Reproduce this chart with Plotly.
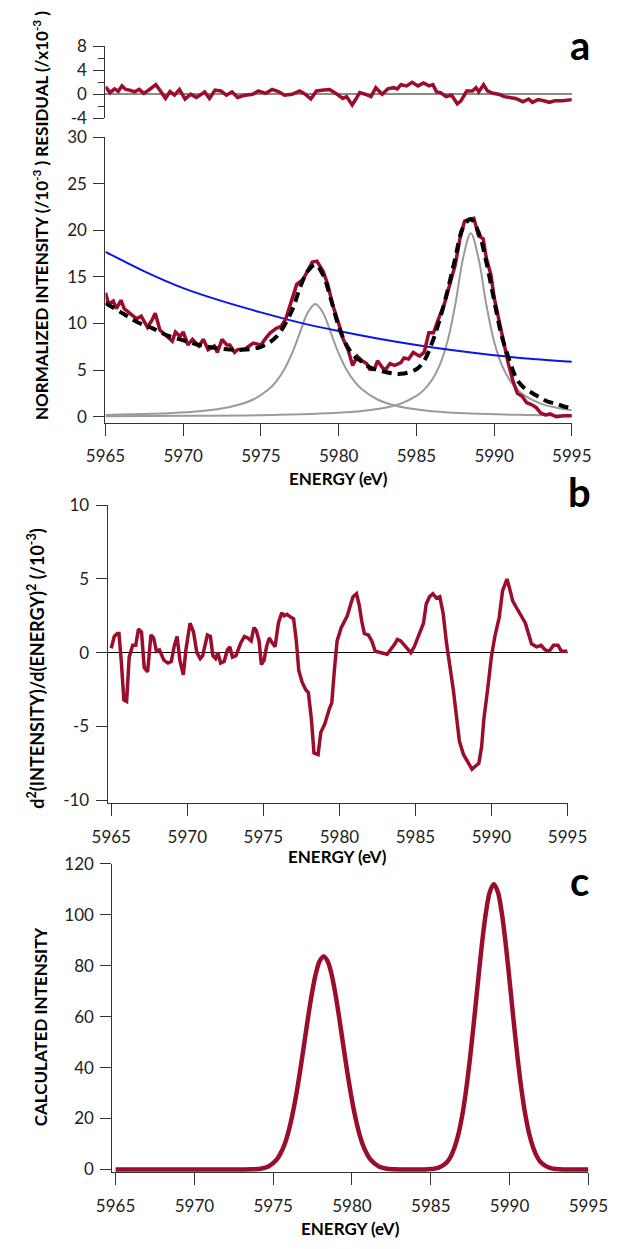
import plotly.graph_objects as go

W, H = 629, 1249
RED = "#9b0d2c"
FONT = "Lato"

# ---------------- Panel a: residual ----------------
res_E = [5965.0, 5965.29, 5965.58, 5965.82, 5966.06, 5966.30, 5966.62, 5966.86, 5967.17, 5967.46,
         5967.83, 5968.24, 5968.55, 5968.86, 5969.15, 5969.44, 5969.76, 5970.12, 5970.48, 5970.85,
         5971.09, 5971.38, 5971.69, 5972.05, 5972.42, 5972.78, 5973.14, 5973.50, 5973.99, 5974.47,
         5974.83, 5975.31, 5975.72, 5976.16, 5976.52, 5977.00, 5977.49, 5977.85, 5978.21, 5978.57,
         5979.06, 5979.42, 5979.90, 5980.27, 5980.51, 5980.87, 5981.11, 5981.35, 5981.71, 5982.08,
         5982.39, 5982.80, 5983.16, 5983.53, 5983.77, 5984.01, 5984.37, 5984.73, 5985.10, 5985.46,
         5985.82, 5986.06, 5986.30, 5986.55, 5986.91, 5987.27, 5987.63, 5987.87, 5988.24, 5988.60,
         5988.84, 5989.01, 5989.32, 5989.57, 5989.93, 5990.29, 5990.65, 5991.01, 5991.38, 5991.86,
         5992.22, 5992.46, 5992.83, 5993.19, 5993.55, 5993.91, 5994.40, 5995.0]
res_V = [1.25, 0.27, 0.9, 0.5, 1.4, 0.8, 0.65, 0.4, 0.8, 0.15,
         0.8, 1.6, 0.5, -0.7, 0.45, -0.15, 0.8, -0.8, 0.0, -0.55,
         -0.15, 0.4, -0.7, 0.7, 0.55, -0.15, 0.4, -0.55, -0.15, 0.0,
         0.55, 0.15, 0.8, 0.4, -0.15, 0.0, 0.55, 0.0, -0.8, 0.55,
         0.7, 0.8, 0.0, -0.7, -0.4, -1.8, -0.8, 0.27, 0.0, -0.4,
         1.1, 0.0, 0.9, 1.1, 0.9, 1.6, 1.4, 2.0, 1.4, 1.9,
         1.4, 1.6, 0.4, 0.27, -0.4, -0.15, -1.6, -1.1, 0.55, 0.55,
         1.1, 0.4, 1.6, 0.55, 0.15, 0.0, -0.4, -0.55, -0.7, -1.25,
         -0.8, -1.35, -0.9, -1.1, -1.35, -1.1, -1.1, -0.9]

# ---------------- Panel a: data, fit, background, peaks ----------------
dat_E = [5965.0, 5965.2, 5965.5, 5965.7, 5966.0, 5966.2, 5966.5, 5967.0, 5967.3, 5967.7,
         5968.0, 5968.2, 5968.5, 5969.0, 5969.3, 5969.5, 5969.8, 5970.0, 5970.3, 5970.6,
         5971.0, 5971.3, 5971.6, 5972.0, 5972.2, 5972.5, 5972.8, 5973.0, 5973.3, 5973.5,
         5974.0, 5974.5, 5975.0, 5975.3, 5975.6, 5976.0, 5976.3, 5976.6, 5977.0, 5977.3,
         5977.7, 5978.0, 5978.3, 5978.6, 5979.0, 5979.3, 5979.6, 5980.0, 5980.3, 5980.6,
         5980.9, 5981.2, 5981.5, 5981.8, 5982.0, 5982.3, 5982.5, 5982.8, 5983.0, 5983.3,
         5983.6, 5984.0, 5984.2, 5984.5, 5984.8, 5985.2, 5985.5, 5985.8, 5986.1, 5986.4,
         5986.8, 5987.2, 5987.5, 5987.8, 5988.1, 5988.4, 5988.7, 5989.0, 5989.3, 5989.5,
         5989.8, 5990.0, 5990.3, 5990.6, 5990.9, 5991.2, 5991.5, 5991.8, 5992.1, 5992.4,
         5992.7, 5993.0, 5993.3, 5993.6, 5994.0, 5994.5, 5995.0]
dat_V = [13.3, 12.1, 12.4, 11.6, 12.5, 11.6, 11.2, 10.5, 10.8, 9.6,
         10.4, 11.1, 9.3, 8.6, 8.1, 9.1, 8.6, 9.1, 7.7, 8.3,
         7.6, 8.3, 7.2, 7.6, 6.9, 8.3, 7.7, 7.7, 6.9, 7.2,
         7.3, 7.9, 7.7, 8.4, 9.0, 9.5, 9.7, 10.5, 12.5, 14.2,
         14.7, 15.6, 16.6, 16.7, 15.6, 14.2, 12.1, 10.0, 8.3, 7.2,
         5.5, 6.5, 6.0, 5.7, 5.1, 5.1, 6.0, 5.3, 5.0, 5.7,
         5.5, 5.8, 6.3, 6.2, 6.9, 6.5, 6.9, 9.0, 9.0, 10.4,
         12.1, 14.5, 16.3, 19.1, 21.0, 21.2, 21.3, 19.4, 19.1, 17.0,
         15.2, 12.8, 10.4, 7.9, 5.8, 3.9, 2.5, 2.2, 1.5, 1.3,
         1.0, 0.4, 0.2, 0.3, 0.0, 0.1, 0.1]

fit_E = [5965, 5966, 5967, 5968, 5969, 5970, 5971, 5972, 5973, 5974,
         5975, 5976, 5977, 5977.5, 5978, 5978.5, 5979, 5979.5, 5980, 5980.5,
         5981, 5981.5, 5982, 5983, 5984, 5985, 5985.5, 5986, 5986.5, 5987,
         5987.5, 5988, 5988.5, 5989, 5989.5, 5990, 5990.5, 5991, 5991.5, 5992,
         5992.5, 5993, 5993.5, 5994, 5994.5, 5995]
fit_V = [12.2, 11.2, 10.2, 9.5, 8.7, 8.2, 7.7, 7.4, 7.2, 7.2,
         7.5, 8.6, 11.4, 13.8, 15.6, 16.3, 15.2, 12.6, 9.7, 7.7,
         6.5, 5.9, 5.3, 4.8, 4.6, 5.1, 6.0, 7.9, 10.4, 13.5,
         17.0, 20.3, 21.2, 19.8, 16.6, 12.5, 8.6, 6.0, 3.9, 3.0,
         2.5, 2.0, 1.6, 1.4, 1.1, 0.9]

bg_E = [5965, 5967.5, 5970, 5972.5, 5975, 5977.5, 5980, 5982.5, 5985, 5987.5, 5990, 5992.5, 5995]
bg_V = [17.7, 15.6, 13.8, 12.4, 11.2, 10.1, 9.2, 8.4, 7.7, 7.1, 6.6, 6.2, 5.9]

pk1_E = [5965, 5968, 5971, 5973, 5974.5, 5975.5, 5976, 5976.5, 5977, 5977.5, 5978, 5978.5,
         5979, 5979.5, 5980, 5980.5, 5981, 5981.5, 5982.5, 5983.5, 5984.5, 5986, 5988.5, 5991.5, 5995]
pk1_V = [0.19, 0.31, 0.59, 1.05, 1.85, 2.94, 3.83, 5.08, 6.80, 8.99, 11.14, 12.1,
         11.14, 8.99, 6.80, 5.08, 3.83, 2.94, 1.85, 1.25, 0.90, 0.59, 0.34, 0.20, 0.13]

pk2_E = [5965, 5970.5, 5975.5, 5980.5, 5983, 5984, 5985, 5985.5, 5986, 5986.5, 5987, 5987.5,
         5988, 5988.5, 5989, 5989.5, 5990, 5990.5, 5991, 5991.5, 5992, 5993, 5994, 5995]
pk2_V = [0.056, 0.095, 0.18, 0.47, 0.97, 1.41, 2.23, 2.91, 3.94, 5.53, 8.07, 12.01,
         16.98, 19.7, 16.98, 12.01, 8.07, 5.53, 3.94, 2.91, 2.23, 1.41, 0.97, 0.70]

# ---------------- Panel b: second derivative ----------------
d2_E = [5965.00, 5965.20, 5965.40, 5965.51, 5965.67, 5965.83, 5966.01, 5966.18, 5966.41, 5966.61,
        5966.79, 5966.99, 5967.17, 5967.39, 5967.61, 5967.79, 5967.97, 5968.17, 5968.46, 5968.73,
        5968.95, 5969.13, 5969.33, 5969.51, 5969.74, 5969.91, 5970.18, 5970.41, 5970.63, 5970.85,
        5971.01, 5971.19, 5971.32, 5971.52, 5971.68, 5971.86, 5972.01, 5972.19, 5972.42, 5972.64,
        5972.80, 5972.97, 5973.20, 5973.38, 5973.53, 5973.76, 5973.98, 5974.20, 5974.38, 5974.54,
        5974.72, 5974.87, 5975.05, 5975.21, 5975.39, 5975.56, 5975.77, 5975.99, 5976.21, 5976.37,
        5976.55, 5976.82, 5976.99, 5977.17, 5977.33, 5977.55, 5977.78, 5977.96, 5978.16, 5978.33,
        5978.60, 5978.78, 5979.05, 5979.34, 5979.50, 5979.67, 5979.85, 5980.12, 5980.34, 5980.52,
        5980.75, 5980.90, 5981.13, 5981.31, 5981.46, 5981.64, 5981.91, 5982.13, 5982.36, 5982.80,
        5983.14, 5983.65, 5983.81, 5984.03, 5984.37, 5984.70, 5984.92, 5985.21, 5985.53, 5985.71,
        5985.93, 5986.15, 5986.38, 5986.60, 5986.82, 5987.05, 5987.27, 5987.49, 5987.72, 5987.89,
        5988.16, 5988.50, 5988.72, 5988.94, 5989.17, 5989.35, 5989.50, 5989.77, 5989.99, 5990.22,
        5990.51, 5990.73, 5990.89, 5991.02, 5991.18, 5991.40, 5991.62, 5991.96, 5992.23, 5992.52,
        5992.63, 5992.97, 5993.26, 5993.52, 5993.79, 5994.08, 5994.37, 5994.60, 5995.00]
d2_V = [0.3, 1.1, 1.3, 1.3, -0.7, -3.2, -3.3, -0.3, 0.5, 0.5,
        1.6, 1.4, -1.0, -1.3, 1.2, 1.0, 0.1, 0.2, -0.5, -0.7,
        -0.6, 0.4, 1.1, -0.5, -1.5, 0.2, 2.0, 1.4, 0.0, -0.4,
        -0.2, 0.8, 1.2, 1.1, -0.2, -0.4, 0.0, -0.7, -0.6, 0.2,
        0.4, -0.3, -0.2, 0.3, 0.7, 1.1, 1.0, 0.8, 1.7, 1.5,
        0.8, -0.8, -0.5, 0.4, 1.0, 0.7, 0.4, 2.0, 2.7, 2.5,
        2.6, 2.4, 2.3, 0.8, -1.2, -2.0, -2.5, -2.7, -4.5, -6.8,
        -6.9, -5.4, -4.8, -3.8, -3.4, -1.2, 0.8, 1.7, 2.1, 2.5,
        3.3, 3.8, 4.0, 3.2, 2.2, 1.3, 1.2, 0.8, 0.1, 0.0,
        -0.1, 0.6, 0.9, 0.8, 0.4, 0.0, 0.4, 1.2, 2.0, 3.3,
        3.8, 4.0, 3.7, 3.8, 2.7, 0.6, -0.9, -2.5, -4.5, -6.0,
        -6.9, -7.5, -7.9, -7.7, -7.5, -6.4, -4.5, -2.3, -0.3, 1.1,
        2.4, 4.2, 4.6, 5.0, 4.4, 3.5, 3.1, 2.5, 2.0, 1.0,
        0.6, 0.4, 0.5, 0.2, 0.1, 0.5, 0.5, 0.1, 0.1]

# ---------------- Panel c: calculated intensity ----------------
calc_E = [5965, 5970, 5973, 5973.7, 5974.2, 5974.7, 5975.2, 5975.45, 5975.7, 5975.95,
          5976.2, 5976.45, 5976.7, 5976.95, 5977.2, 5977.45, 5977.7, 5977.95, 5978.2, 5978.45,
          5978.7, 5978.95, 5979.2, 5979.45, 5979.7, 5979.95, 5980.2, 5980.45, 5980.7, 5980.95,
          5981.2, 5981.7, 5982.2, 5982.7, 5983.5, 5984.5, 5985.0, 5985.5, 5986.0, 5986.25,
          5986.5, 5986.75, 5987.0, 5987.25, 5987.5, 5987.75, 5988.0, 5988.25, 5988.5, 5988.75,
          5989.0, 5989.25, 5989.5, 5989.75, 5990.0, 5990.25, 5990.5, 5990.75, 5991.0, 5991.25,
          5991.5, 5991.75, 5992.0, 5992.5, 5993.0, 5993.5, 5995]
calc_V = [0, 0, 0, 0.07, 0.3, 1.2, 3.7, 6.1, 9.5, 14.4,
          20.9, 28.9, 38.3, 48.6, 59.1, 68.8, 76.7, 81.8, 83.6, 81.8,
          76.7, 68.8, 59.1, 48.6, 38.3, 28.9, 20.9, 14.4, 9.5, 6.1,
          3.7, 1.2, 0.3, 0.07, 0, 0, 0.15, 0.7, 2.7, 4.9,
          8.5, 13.8, 21.4, 31.6, 44.2, 58.7, 74.0, 88.7, 100.9, 109.0,
          111.9, 109.0, 100.9, 88.7, 74.0, 58.7, 44.2, 31.6, 21.4, 13.8,
          8.5, 4.9, 2.7, 0.7, 0.15, 0, 0]

energy_ticks = [5965, 5970, 5975, 5980, 5985, 5990, 5995]
res_ticks = [-4, 0, 4, 8]
a_ticks = [0, 5, 10, 15, 20, 25, 30]
b_ticks = [-10, -5, 0, 5, 10]
c_ticks = [0, 20, 40, 60, 80, 100, 120]


def lbl(v):
    return str(v)


def px_x(p):
    return p / W


def px_y(p):
    return 1 - p / H


fig = go.Figure()

# residual
fig.add_trace(go.Scatter(x=res_E, y=res_V, mode="lines", line=dict(color=RED, width=3.5),
                         xaxis="x", yaxis="y", showlegend=False))
# panel a
fig.add_trace(go.Scatter(x=pk1_E, y=pk1_V, mode="lines", line=dict(color="#9a9a9a", width=2, shape="spline"),
                         xaxis="x2", yaxis="y2", showlegend=False))
fig.add_trace(go.Scatter(x=pk2_E, y=pk2_V, mode="lines", line=dict(color="#9a9a9a", width=2, shape="spline"),
                         xaxis="x2", yaxis="y2", showlegend=False))
fig.add_trace(go.Scatter(x=bg_E, y=bg_V, mode="lines", line=dict(color="#0a14f0", width=2, shape="spline"),
                         xaxis="x2", yaxis="y2", showlegend=False))
fig.add_trace(go.Scatter(x=dat_E, y=dat_V, mode="lines", line=dict(color=RED, width=3.5),
                         xaxis="x2", yaxis="y2", showlegend=False))
fig.add_trace(go.Scatter(x=fit_E, y=fit_V, mode="lines",
                         line=dict(color="black", width=4, dash="10px,6px", shape="spline"),
                         xaxis="x2", yaxis="y2", showlegend=False))
# panel b
fig.add_trace(go.Scatter(x=d2_E, y=d2_V, mode="lines", line=dict(color=RED, width=3.5),
                         xaxis="x3", yaxis="y3", showlegend=False))
# panel c
fig.add_trace(go.Scatter(x=calc_E, y=calc_V, mode="lines", line=dict(color=RED, width=4.5, shape="spline"),
                         xaxis="x4", yaxis="y4", showlegend=False))

tickfont = dict(family=FONT, size=17, color="#222")
common_x = dict(showline=True, linecolor="#333", linewidth=1.2, ticks="outside", ticklen=12,
                tickwidth=1.2, tickcolor="#333", tickvals=energy_ticks,
                ticktext=[str(t) for t in energy_ticks], tickfont=tickfont,
                showgrid=False, zeroline=False)
common_y = dict(showline=True, linecolor="#333", linewidth=1.2, ticks="outside", ticklen=11,
                tickwidth=1.2, tickcolor="#333", tickfont=tickfont, ticklabelstandoff=3,
                showgrid=False)

xa_dom = [px_x(91.3), px_x(589.3)]
fig.update_layout(
    width=W, height=H, margin=dict(l=0, r=0, t=0, b=0),
    paper_bgcolor="white", plot_bgcolor="white", showlegend=False,
    xaxis=dict(domain=xa_dom, range=[5965, 5995], anchor="y", visible=False),
    yaxis=dict(domain=[px_y(109), px_y(36)], range=[-4, 8], anchor="x",
               tickvals=res_ticks, ticktext=[lbl(t) for t in res_ticks],
               minor=dict(dtick=2, ticks="outside", ticklen=6, tickcolor="#333", tickwidth=1.2),
               zeroline=True, zerolinecolor="#8a8a8a", zerolinewidth=2, **common_y),
    xaxis2=dict(domain=xa_dom, range=[5965, 5995], anchor="y2", ticklabelstandoff=5, **common_x),
    yaxis2=dict(domain=[px_y(419.3), px_y(128.3)], range=[-0.7, 30], anchor="x2",
                tickvals=a_ticks, ticktext=[lbl(t) for t in a_ticks], zeroline=False, **common_y),
    xaxis3=dict(domain=[px_x(93.7), px_x(584.7)], range=[5964.77, 5995], anchor="y3",
                ticklabelstandoff=6, **common_x),
    yaxis3=dict(domain=[px_y(805.7), px_y(502.7)], range=[-10.2, 10], anchor="x3",
                tickvals=b_ticks, ticktext=[lbl(t) for t in b_ticks],
                zeroline=True, zerolinecolor="black", zerolinewidth=1, **common_y),
    xaxis4=dict(domain=[px_x(98.7), px_x(607)], range=[5964.8, 5995], anchor="y4",
                ticklabelstandoff=6, **common_x),
    yaxis4=dict(domain=[px_y(1181), px_y(867.3)], range=[-1.04, 120], anchor="x4",
                tickvals=c_ticks, ticktext=[lbl(t) for t in c_ticks], zeroline=False, **common_y),
)

title_font = dict(family=FONT, size=17, color="black")
ann = []
for (cx, cy) in [(340.3, 476), (339, 860), (353, 1238)]:
    ann.append(dict(x=px_x(cx), y=px_y(cy), xref="paper", yref="paper", text="<b>ENERGY (eV)</b>",
                    showarrow=False, xanchor="center", yanchor="middle", font=title_font))
ann.append(dict(x=px_x(22), y=px_y(208), xref="paper", yref="paper", textangle=-90,
                text="<b>NORMALIZED INTENSITY (/10<sup>-3</sup> ) RESIDUAL (/x10<sup>-3</sup> )</b>",
                showarrow=False, xanchor="center", yanchor="middle", font=dict(family=FONT, size=17, color="black")))
ann.append(dict(x=px_x(17), y=px_y(668), xref="paper", yref="paper", textangle=-90,
                text="<b>d<sup>2</sup>(INTENSITY)/d(ENERGY)<sup>2</sup> (/10<sup>-3</sup>)</b>",
                showarrow=False, xanchor="center", yanchor="middle", font=dict(family=FONT, size=18, color="black")))
ann.append(dict(x=px_x(22), y=px_y(1033), xref="paper", yref="paper", textangle=-90,
                text="<b>CALCULATED INTENSITY</b>",
                showarrow=False, xanchor="center", yanchor="middle", font=dict(family=FONT, size=17, color="black")))
for (t, cx, cy) in [("a", 598, 35), ("b", 598, 489), ("c", 598, 885)]:
    ann.append(dict(x=px_x(cx), y=px_y(cy), xref="paper", yref="paper", text="<b>%s</b>" % t,
                    showarrow=False, xanchor="center", yanchor="middle",
                    font=dict(family=FONT, size=40, color="black")))
fig.update_layout(annotations=ann)

fig.write_html("out.html")
